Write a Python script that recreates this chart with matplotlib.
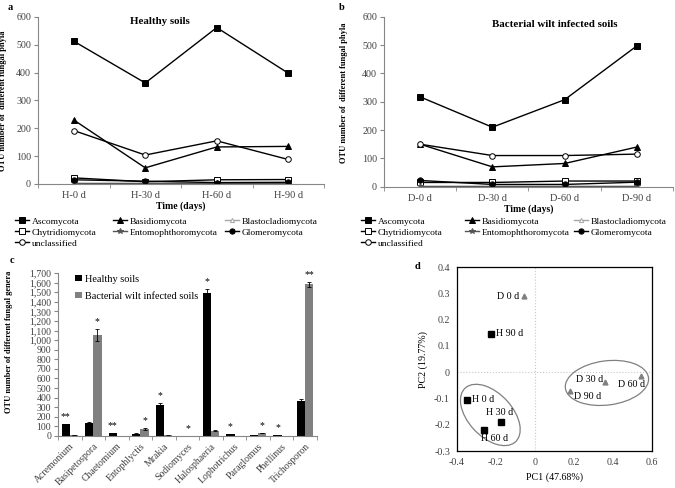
import numpy as np
import matplotlib.pyplot as plt
from matplotlib.patches import Ellipse
from matplotlib.legend import Legend
from matplotlib.ticker import FuncFormatter

plt.rcParams['font.family'] = ['Liberation Serif', 'DejaVu Serif']
plt.rcParams['font.size'] = 6.5
plt.rcParams['axes.unicode_minus'] = False

# ---- panels a / b : OTU number of fungal phyla over time
healthyDays = ['H-0 d', 'H-30 d', 'H-60 d', 'H-90 d']
wiltDays = ['D-0 d', 'D-30 d', 'D-60 d', 'D-90 d']
phyla = ['Ascomycota', 'Basidiomycota', 'Blastocladiomycota', 'Chytridiomycota',
         'Entomophthoromycota', 'Glomeromycota', 'unclassified']

hAsco = [513, 363, 562, 398]
hBasidio = [230, 58, 133, 135]
hBlasto = [2, 2, 2, 2]
hChytrid = [22, 8, 15, 16]
hEntomo = [3, 3, 3, 3]
hGlomero = [15, 10, 5, 6]
hUncl = [192, 104, 155, 88]

dAsco = [317, 210, 307, 497]
dBasidio = [150, 70, 82, 140]
dBlasto = [2, 2, 2, 2]
dChytrid = [15, 15, 20, 20]
dEntomo = [1, 1, 1, 1]
dGlomero = [22, 8, 8, 16]
dUncl = [150, 110, 110, 115]

# ---- panel c : OTU number of fungal genera
genera = ['Acremonium', 'Basipetospora', 'Chaetomium', 'Entophlyctis', 'Mrakia',
          'Sodiomyces', 'Halosphaeria', 'Lophotrichus', 'Paraglomus', 'Phellinus',
          'Trichosporon']
healthyGenera = [120, 140, 30, 25, 325, 3, 1490, 20, 5, 10, 360]
healthyErr = [6, 5, 3, 3, 22, 1, 40, 3, 1, 2, 30]
wiltGenera = [12, 1055, 3, 75, 5, 3, 55, 3, 32, 3, 1580]
wiltErr = [2, 60, 1, 8, 1, 1, 5, 1, 4, 1, 25]
stars = ['**', '*', '**', '*', '*', '*', '*', '*', '*', '*', '**']
starOn = ['H', 'D', 'H', 'D', 'H', 'C', 'H', 'H', 'D', 'H', 'D']

# ---- panel d : PCA
pcaLabels = ['H 0 d', 'H 30 d', 'H 60 d', 'H 90 d', 'D 0 d', 'D 30 d', 'D 60 d', 'D 90 d']
pc1 = [-0.35, -0.176, -0.26, -0.227, -0.058, 0.359, 0.544, 0.179]
pc2 = [-0.105, -0.19, -0.221, 0.146, 0.288, -0.037, -0.014, -0.073]

GRAY = '#808080'
AXC = '#868686'
TXT = '#404040'

styles = {
    'Ascomycota': dict(color='black', marker='s', ms=3.8, mfc='black'),
    'Basidiomycota': dict(color='black', marker='^', ms=4, mfc='black'),
    'Blastocladiomycota': dict(color='#a6a6a6', marker='^', ms=3, mfc='white'),
    'Chytridiomycota': dict(color='black', marker='s', ms=3.8, mfc='white'),
    'Entomophthoromycota': dict(color='#555555', marker='*', ms=4, mfc='#555555'),
    'Glomeromycota': dict(color='black', marker='o', ms=3.8, mfc='black'),
    'unclassified': dict(color='black', marker='o', ms=4, mfc='white'),
}

fig = plt.figure(figsize=(6.75, 4.88), dpi=100)


def drawPhyla(ax, days, series, title, titleX, titleY, letter, letterPos, ylabX, ylabY, legX, legY):
    x = np.arange(len(days))
    lines = []
    for name, vals in zip(phyla, series):
        ln, = ax.plot(x, vals, lw=1.0, mew=0.7, label=name, **styles[name])
        lines.append(ln)
    ax.set_xlim(-0.5, len(days) - 0.5)
    ax.set_ylim(0, 600)
    ax.set_yticks(range(0, 601, 100))
    ax.set_xticks(x)
    ax.set_xticklabels(days)
    ax.set_xticks(np.arange(-0.5, len(days)), minor=True)
    ax.tick_params(axis='x', which='major', length=0, pad=5, colors=TXT, labelsize=7.5)
    ax.tick_params(axis='x', which='minor', length=3, direction='out', color=AXC)
    ax.tick_params(axis='y', length=3, direction='out', pad=2, color=AXC, labelcolor=TXT,
                   labelsize=7.2)
    for s in ['top', 'right']:
        ax.spines[s].set_visible(False)
    for s in ['left', 'bottom']:
        ax.spines[s].set_color(AXC)
    ax.set_xlabel('Time (days)', fontweight='bold', labelpad=1, fontsize=7)
    ax.set_ylabel('OTU number of  different fungal phyla', fontweight='bold', fontsize=6)
    ax.yaxis.set_label_coords(ylabX, ylabY)
    ax.text(titleX, titleY, title, transform=ax.transAxes, ha='center', va='center',
            fontweight='bold', fontsize=7.8)
    fig.text(letterPos[0], letterPos[1], letter, fontweight='bold', fontsize=7.5)
    # one legend per column so the columns sit where the reference has them
    columns = [[0, 3, 6], [1, 4], [2, 5]]
    for col, lx in zip(columns, legX):
        leg = Legend(ax, [lines[i] for i in col], [phyla[i] for i in col],
                     loc='upper left', bbox_to_anchor=(lx, legY),
                     bbox_transform=fig.transFigure, frameon=False, borderpad=0,
                     handlelength=1.5, handletextpad=0.3, labelspacing=0.25,
                     fontsize=6.8)
        ax.add_artist(leg)


axA = fig.add_axes([0.0563, 0.6230, 0.4237, 0.3422])
drawPhyla(axA, healthyDays, [hAsco, hBasidio, hBlasto, hChytrid, hEntomo, hGlomero, hUncl],
          'Healthy soils', 0.427, 0.97, 'a', (0.012, 0.98), -0.11, 0.5,
          [0.015, 0.160, 0.326], 0.565)

axB = fig.add_axes([0.5689, 0.6174, 0.4281, 0.3484])
drawPhyla(axB, wiltDays, [dAsco, dBasidio, dBlasto, dChytrid, dEntomo, dGlomero, dUncl],
          'Bacterial wilt infected soils', 0.592, 0.953, 'b', (0.502, 0.98), -0.125, 0.55,
          [0.528, 0.682, 0.843], 0.565)

# ---- panel c
axC = fig.add_axes([0.0859, 0.1066, 0.3837, 0.3340])
xc = np.arange(len(genera))
bw = 0.35
axC.bar(xc - bw / 2, healthyGenera, bw, yerr=healthyErr, color='black',
        error_kw=dict(lw=0.6, capsize=1.5, capthick=0.6), label='Healthy soils')
axC.bar(xc + bw / 2, wiltGenera, bw, yerr=wiltErr, color=GRAY, ecolor='black',
        error_kw=dict(lw=0.6, capsize=1.5, capthick=0.6), label='Bacterial wilt infected soils')
for i, (st, side) in enumerate(zip(stars, starOn)):
    if side == 'H':
        sx, sy = xc[i] - bw / 2, healthyGenera[i] + healthyErr[i]
    elif side == 'D':
        sx, sy = xc[i] + bw / 2, wiltGenera[i] + wiltErr[i]
    else:
        sx, sy = xc[i], max(healthyGenera[i], wiltGenera[i])
    axC.annotate(st, (sx, sy), xytext=(0, 2), textcoords='offset points',
                 ha='center', va='bottom', fontsize=7)
axC.set_xlim(-0.5, len(genera) - 0.5)
axC.set_ylim(0, 1700)
axC.set_yticks(range(0, 1701, 100))
axC.yaxis.set_major_formatter(FuncFormatter(lambda v, p: f'{int(v):,}'))
axC.set_xticks(xc)
axC.set_xticklabels(genera, rotation=45, ha='right', rotation_mode='anchor')
axC.set_xticks(np.arange(-0.5, len(genera)), minor=True)
axC.tick_params(axis='x', which='major', length=0, pad=4, labelsize=7, colors=TXT)
axC.tick_params(axis='x', which='minor', length=3, direction='out', color=AXC)
axC.tick_params(axis='y', length=3, direction='out', pad=2, color=AXC, labelsize=7,
                labelcolor=TXT)
for s in ['top', 'right']:
    axC.spines[s].set_visible(False)
for s in ['left', 'bottom']:
    axC.spines[s].set_color(AXC)
axC.set_ylabel('OTU number of different fungal genera', fontweight='bold', fontsize=6)
axC.yaxis.set_label_coords(-0.175, 0.58)
axC.legend(loc='upper left', bbox_to_anchor=(0.104, 0.448), bbox_transform=fig.transFigure,
           frameon=False, borderpad=0, handlelength=0.6, handleheight=0.6,
           handletextpad=0.3, labelspacing=0.8, fontsize=7.4)
fig.text(0.014, 0.462, 'c', fontweight='bold', fontsize=7.5)

# ---- panel d
axD = fig.add_axes([0.6770, 0.0758, 0.2889, 0.3770])
axD.axvline(0, color='#c8c8c8', ls=':', lw=0.8, zorder=0)
axD.axhline(0, color='#c8c8c8', ls=':', lw=0.8, zorder=0)
isH = [lab.startswith('H') for lab in pcaLabels]
axD.plot([p for p, h in zip(pc1, isH) if h], [p for p, h in zip(pc2, isH) if h],
         ls='none', marker='s', ms=4, color='black')
axD.plot([p for p, h in zip(pc1, isH) if not h], [p for p, h in zip(pc2, isH) if not h],
         ls='none', marker='^', ms=3.5, color=GRAY)
labelPlace = {
    'H 0 d': ((4, 0), 'left', 'center'),
    'H 30 d': ((-1, 4), 'center', 'bottom'),
    'H 60 d': ((-2, -3), 'left', 'top'),
    'H 90 d': ((4, 0), 'left', 'center'),
    'D 0 d': ((-3, 0), 'right', 'center'),
    'D 30 d': ((-1, 2), 'right', 'center'),
    'D 60 d': ((3, -3), 'right', 'top'),
    'D 90 d': ((3, -4), 'left', 'center'),
}
for lab, px, py in zip(pcaLabels, pc1, pc2):
    off, ha, va = labelPlace[lab]
    axD.annotate(lab, (px, py), xytext=off, textcoords='offset points', ha=ha, va=va,
                 fontsize=7.2)
axD.add_patch(Ellipse((0.171, 0.196), 0.39, 0.23, angle=-50, transform=axD.transAxes,
                      fill=False, ec=GRAY, lw=0.9))
axD.add_patch(Ellipse((0.769, 0.370), 0.43, 0.24, angle=8, transform=axD.transAxes,
                      fill=False, ec=GRAY, lw=0.9))
axD.set_xlim(-0.4, 0.6)
axD.set_ylim(-0.3, 0.4)
axD.set_xticks(np.linspace(-0.4, 0.6, 6))
axD.set_yticks(np.linspace(-0.3, 0.4, 8))
fmt = FuncFormatter(lambda v, p: f'{round(v, 2):g}' if abs(v) > 1e-9 else '0')
axD.xaxis.set_major_formatter(fmt)
axD.yaxis.set_major_formatter(fmt)
axD.tick_params(length=0, pad=5, labelsize=7.2, colors=TXT)
for s in axD.spines.values():
    s.set_color('black')
    s.set_linewidth(0.9)
axD.set_xlabel('PC1 (47.68%)', fontsize=7.2, labelpad=4)
axD.set_ylabel('PC2 (19.77%)', fontsize=7.2)
axD.yaxis.set_label_coords(-0.15, 0.5)
fig.text(0.614, 0.448, 'd', fontweight='bold', fontsize=7.5)

fig.savefig('out.png', dpi=100)
